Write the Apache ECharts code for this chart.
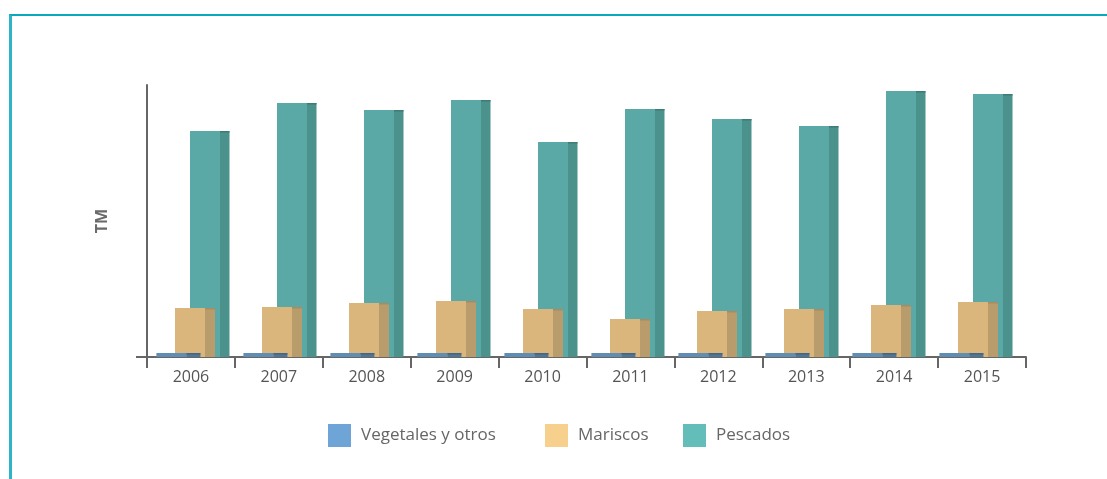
<!DOCTYPE html>
<html>
<head>
<meta charset="utf-8">
<script src="https://cdn.jsdelivr.net/npm/echarts@6/dist/echarts.min.js"></script>
<style>
  html, body { margin: 0; padding: 0; background: #ffffff; }
  #chart { position: absolute; left: 0; top: 0; width: 1107px; height: 479px; }
  #frame { position: absolute; left: 9px; top: 14px; right: 0; bottom: 0;
           border-top: 2px solid #0aa8bc; border-left: 3px solid #2db4c6; pointer-events: none; }
</style>
</head>
<body>
<div id="chart"></div>
<div id="frame"></div>
<script>
// ---- data ----
const years = ['2006', '2007', '2008', '2009', '2010', '2011', '2012', '2013', '2014', '2015'];
const seriesNames = ['Vegetales y otros', 'Mariscos', 'Pescados'];
const vegetales = [40, 40, 40, 40, 40, 40, 40, 40, 40, 40];
const mariscos = [490, 500, 540, 560, 480, 380, 460, 480, 520, 550];
const pescados = [2260, 2540, 2470, 2570, 2150, 2480, 2380, 2310, 2660, 2630];
const yMax = 2720;

const chart = echarts.init(document.getElementById('chart'), null, { renderer: 'canvas' });

function boxRenderer(offset, frontW, sideW, front, side, cap) {
  return function (params, api) {
    const top = api.coord([api.value(0), api.value(1)]);
    const base = api.coord([api.value(0), 0]);
    const cx = top[0] + offset;
    const h = base[1] - top[1];
    const x0 = cx - frontW / 2;
    return {
      type: 'group',
      children: [
        { type: 'rect', shape: { x: x0, y: top[1], width: frontW, height: h }, style: { fill: front } },
        { type: 'rect', shape: { x: x0 + frontW, y: top[1], width: sideW, height: h }, style: { fill: side } },
        { type: 'rect', shape: { x: x0 + frontW, y: top[1], width: sideW, height: 1.5 }, style: { fill: cap } }
      ]
    };
  };
}

const legendBase = {
  orient: 'horizontal', top: 424, padding: 0, itemWidth: 23, itemHeight: 23, icon: 'rect',
  textStyle: { fontFamily: 'Open Sans', fontSize: 17, color: '#666666', padding: [0, 0, 0, 5] }
};

const option = {
  backgroundColor: '#ffffff',
  animation: false,
  textStyle: { fontFamily: 'Open Sans' },
  legend: [
    Object.assign({}, legendBase, { left: 328, data: [seriesNames[0]] }),
    Object.assign({}, legendBase, { left: 545, data: [seriesNames[1]] }),
    Object.assign({}, legendBase, { left: 683, data: [seriesNames[2]] })
  ],
  grid: [
    { left: 147, right: 81, top: 85, bottom: 122 },
    { left: 147.2, right: 89.8, top: 85, bottom: 122 }
  ],
  xAxis: [
    {
      type: 'category', gridIndex: 0, data: years, boundaryGap: true,
      axisLine: { lineStyle: { color: '#666666', width: 2 } },
      axisTick: { show: true, length: 11, lineStyle: { color: '#666666', width: 2 } },
      axisLabel: { color: '#555555', fontSize: 16, fontFamily: 'Open Sans', margin: 12 }
    },
    { type: 'category', gridIndex: 1, data: years, show: false }
  ],
  yAxis: [
    {
      type: 'value', gridIndex: 0, min: 0, max: yMax, interval: yMax,
      name: 'TM', nameLocation: 'middle', nameGap: 37, nameRotate: 90,
      nameTextStyle: { color: '#6a6a6a', fontSize: 16, fontWeight: 'bold', fontFamily: 'Open Sans' },
      axisLine: { show: true, lineStyle: { color: '#666666', width: 2 } },
      axisTick: { show: true, length: 11, customValues: [0], lineStyle: { color: '#666666', width: 2 } },
      axisLabel: { show: false },
      splitLine: { show: false }
    },
    { type: 'value', gridIndex: 1, min: 0, max: yMax, interval: yMax, show: false }
  ],
  series: [
    {
      name: seriesNames[2], type: 'custom', xAxisIndex: 1, yAxisIndex: 1, z: 2,
      itemStyle: { color: '#63bdb8' },
      renderItem: boxRenderer(14.3, 30, 9.5, '#5aa9a6', '#4b918c', '#3f7c77'),
      data: years.map((y, i) => [i, pescados[i]])
    },
    {
      name: seriesNames[1], type: 'custom', xAxisIndex: 1, yAxisIndex: 1, z: 3,
      itemStyle: { color: '#f8d08e' },
      renderItem: boxRenderer(-0.7, 30, 10, '#dab67d', '#b99c6c', '#a98b5e'),
      data: years.map((y, i) => [i, mariscos[i]])
    },
    {
      name: seriesNames[0], type: 'custom', xAxisIndex: 1, yAxisIndex: 1, z: 4,
      itemStyle: { color: '#6fa4d6' },
      renderItem: boxRenderer(-19.3, 30, 14, '#5f8db4', '#4f7597', '#446684'),
      data: years.map((y, i) => [i, vegetales[i]])
    }
  ]
};
chart.setOption(option);
</script>
</body>
</html>
